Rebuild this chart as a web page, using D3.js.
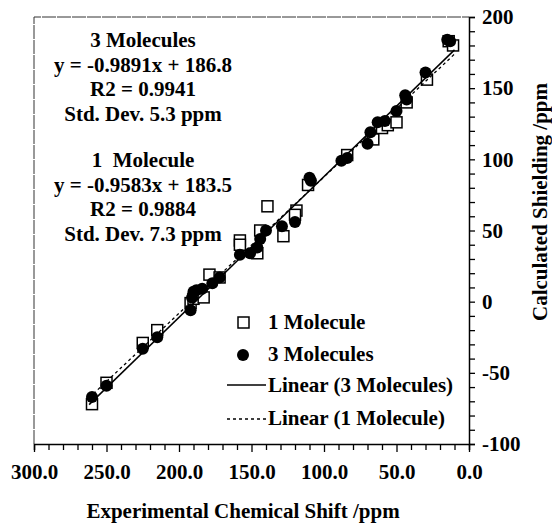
<!DOCTYPE html>
<html>
<head>
<meta charset="utf-8">
<script src="https://cdn.jsdelivr.net/npm/d3@7"></script>
<style>
  body { margin: 0; background: #fff; }
  svg { display: block; }
  text { font-family: "Liberation Serif", "Times New Roman", serif; font-weight: bold; font-size: 21px; fill: #000; }
</style>
</head>
<body>
<svg id="chart" width="552" height="523"></svg>
<script>
// experimental shift (ppm), calculated shielding (ppm)
const oneMolecule = [
  [260, -72], [250, -57], [225, -29], [215, -20], [192, -1], [190, 2], [188, 6], [183, 3],
  [179, 19], [172, 17], [158, 43], [158, 40], [146, 34], [144, 50], [139, 67], [128, 46],
  [119, 64], [120, 61], [111, 82], [84, 103], [66, 114], [60, 122], [56, 124], [50, 126],
  [43, 140], [29, 156], [14, 183], [11, 180]
];
const threeMolecules = [
  [260, -67], [250, -59], [225, -33], [215, -25], [192, -6], [191, 3], [190, 7], [188, 8],
  [184, 9], [177, 13], [172, 17], [158, 33], [151, 34], [146, 38], [144, 44], [140, 50],
  [129, 53], [120, 56], [110, 87], [109, 85], [88, 99], [84, 101], [70, 111], [68, 119],
  [63, 126], [58, 127], [50, 134], [44, 145], [43, 142], [30, 161], [15, 184], [13, 183]
];
const fit3 = {slope: -0.9891, intercept: 186.8};
const fit1 = {slope: -0.9583, intercept: 183.5};
const fitRange = [262, 10];

const note3 = ["3 Molecules", "y = -0.9891x + 186.8", "R2 = 0.9941", "Std. Dev. 5.3 ppm"];
const note1 = ["1  Molecule", "y = -0.9583x + 183.5", "R2 = 0.9884", "Std. Dev. 7.3 ppm"];
const legendLabels = ["1 Molecule", "3 Molecules", "Linear (3 Molecules)", "Linear (1 Molecule)"];

const xDomain = [300, 0];
const yDomain = [-100, 200];

const svg = d3.select("#chart");
const x = d3.scaleLinear().domain(xDomain).range([34, 469]);
const y = d3.scaleLinear().domain(yDomain).range([444, 17]);

// top and left frame
svg.append("path")
  .attr("d", `M${x(300)},${y(-100)}V${y(200)}H${x(0)}`)
  .attr("fill", "none")
  .attr("stroke", "#333")
  .attr("stroke-width", 1)
  .attr("stroke-dasharray", "14,1");

// x axis
const xAxis = svg.append("g")
  .attr("transform", `translate(0,${y(-100)})`)
  .call(d3.axisBottom(x)
    .tickValues(d3.range(0, 301, 10))
    .tickSize(6)
    .tickFormat(d => d % 50 === 0 ? d3.format(".1f")(d) : ""));
xAxis.select(".domain").attr("stroke-width", 1.5);
xAxis.selectAll(".tick line").attr("stroke-width", 1.3)
  .filter(d => d % 50 === 0).attr("y2", 8);
xAxis.selectAll("text").attr("y", 35).attr("dy", null);
xAxis.attr("font-family", null).attr("font-size", null);

// y axis
const yAxis = svg.append("g")
  .attr("transform", `translate(${x(0)},0)`)
  .call(d3.axisRight(y)
    .tickValues(d3.range(-100, 201, 10))
    .tickSize(6)
    .tickPadding(7)
    .tickFormat(d => d % 50 === 0 ? d : ""));
yAxis.select(".domain").attr("stroke-width", 1.5);
yAxis.selectAll(".tick line").attr("stroke-width", 1.3);
yAxis.attr("font-family", null).attr("font-size", null);

// markers
svg.append("g")
  .selectAll("rect")
  .data(oneMolecule)
  .join("rect")
    .attr("x", d => x(d[0]) - 5.5)
    .attr("y", d => y(d[1]) - 5.5)
    .attr("width", 11)
    .attr("height", 11)
    .attr("fill", "#fff")
    .attr("stroke", "#000")
    .attr("stroke-width", 1.5);

svg.append("g")
  .selectAll("circle")
  .data(threeMolecules)
  .join("circle")
    .attr("cx", d => x(d[0]))
    .attr("cy", d => y(d[1]))
    .attr("r", 6)
    .attr("fill", "#000");

// trend lines
const line = d3.line().x(d => x(d[0])).y(d => y(d[1]));
svg.append("path")
  .attr("d", line(fitRange.map(v => [v, fit3.slope * v + fit3.intercept])))
  .attr("fill", "none")
  .attr("stroke", "#000")
  .attr("stroke-width", 1.5);
svg.append("path")
  .attr("d", line(fitRange.map(v => [v, fit1.slope * v + fit1.intercept])))
  .attr("fill", "none")
  .attr("stroke", "#000")
  .attr("stroke-width", 1.3)
  .attr("stroke-dasharray", "3,3");

// fit notes
svg.append("g")
  .selectAll("text")
  .data(note3.concat(note1))
  .join("text")
    .attr("x", 143)
    .attr("y", (d, i) => i < 4 ? 47 + i * 24.5 : 167 + (i - 4) * 24.5)
    .attr("text-anchor", "middle")
    .style("white-space", "pre")
    .text(d => d);

// legend
const lg = svg.append("g");
lg.append("rect").attr("x", 238).attr("y", 317).attr("width", 11).attr("height", 11)
  .attr("fill", "#fff").attr("stroke", "#000").attr("stroke-width", 1.5);
lg.append("circle").attr("cx", 243).attr("cy", 355).attr("r", 6).attr("fill", "#000");
lg.append("line").attr("x1", 227).attr("x2", 266).attr("y1", 385).attr("y2", 385)
  .attr("stroke", "#000").attr("stroke-width", 1.3);
lg.append("line").attr("x1", 227).attr("x2", 266).attr("y1", 419).attr("y2", 419)
  .attr("stroke", "#000").attr("stroke-width", 1.3).attr("stroke-dasharray", "3,3");
lg.selectAll("text")
  .data(legendLabels)
  .join("text")
    .attr("x", 268)
    .attr("y", (d, i) => [329, 361, 392, 425][i])
    .text(d => d);

// axis titles
svg.append("text")
  .attr("x", 243)
  .attr("y", 518)
  .attr("text-anchor", "middle")
  .text("Experimental Chemical Shift /ppm");
svg.append("text")
  .attr("transform", "translate(547,202) rotate(-90)")
  .attr("text-anchor", "middle")
  .text("Calculated Shielding /ppm");
</script>
</body>
</html>
